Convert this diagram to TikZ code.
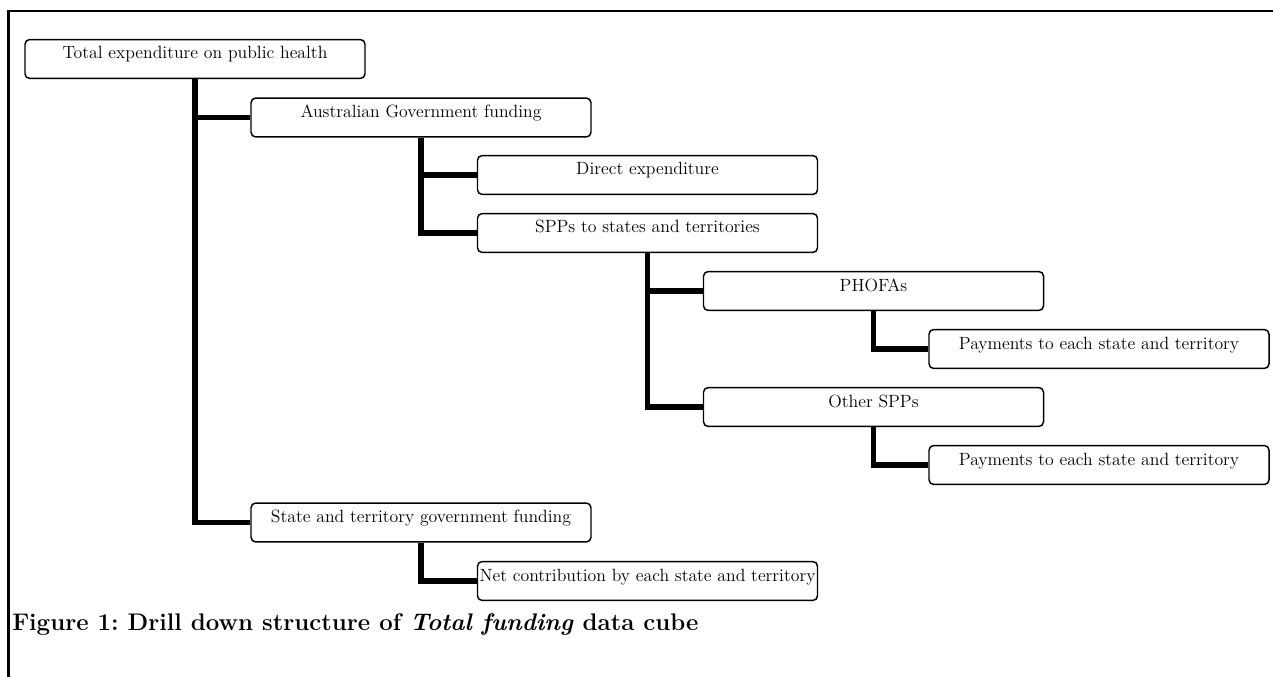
\documentclass[tikz,border=0pt]{standalone}
\begin{document}
\frenchspacing
\begin{tikzpicture}[x=0.75pt,y=-0.75pt,
  box/.style={draw=black,line width=1.1pt,rounded corners=3.5pt,fill=white,
    minimum width=255pt,inner xsep=0pt,inner ysep=0pt,
    text height=14.6pt,text depth=14.6pt,align=center,
    font=\fontsize{13.3pt}{15pt}\selectfont},
  conn/.style={line width=3.8pt,line join=miter,line cap=butt},
  frame/.style={line width=2pt,line join=miter}]
\useasboundingbox (0,0) rectangle (1273,677);
\fill[white] (0,0) rectangle (1273,677);
\coordinate (fr1) at (1273,11);
\coordinate (fr2) at (8.7,11);
\coordinate (fr3) at (8.7,677);
\draw[frame] (fr1) -- (fr2) -- (fr3);

\node[box] (total) at (195,59) {Total expenditure on public health};
\node[box] (aus) at (421,117.5) {Australian Government funding};
\node[box] (direct) at (647.5,175) {Direct expenditure};
\node[box] (spp) at (647.5,233) {SPPs to states and territories};
\node[box] (phofa) at (873.5,291) {PHOFAs};
\node[box] (pay1) at (1099,349) {Payments to each state and territory};
\node[box] (other) at (873.5,407) {Other SPPs};
\node[box] (pay2) at (1099,465) {Payments to each state and territory};
\node[box] (state) at (421,522.5) {State and territory government funding};
\node[box] (net) at (647.5,581) {Net contribution by each state and territory};

\draw[conn] (total.south) |- (aus.west);
\draw[conn] (total.south) |- (state.west);
\draw[conn] (aus.south) |- (direct.west);
\draw[conn] (aus.south) |- (spp.west);
\draw[conn] (spp.south) |- (phofa.west);
\draw[conn] (spp.south) |- (other.west);
\draw[conn] (phofa.south) |- (pay1.west);
\draw[conn] (other.south) |- (pay2.west);
\draw[conn] (state.south) |- (net.west);

\node[anchor=base west,inner sep=0pt,font=\fontsize{18pt}{21pt}\selectfont\bfseries] (caption) at (12,630)
  {Figure 1: Drill down structure of \textit{Total funding} data cube};
\end{tikzpicture}
\end{document}
